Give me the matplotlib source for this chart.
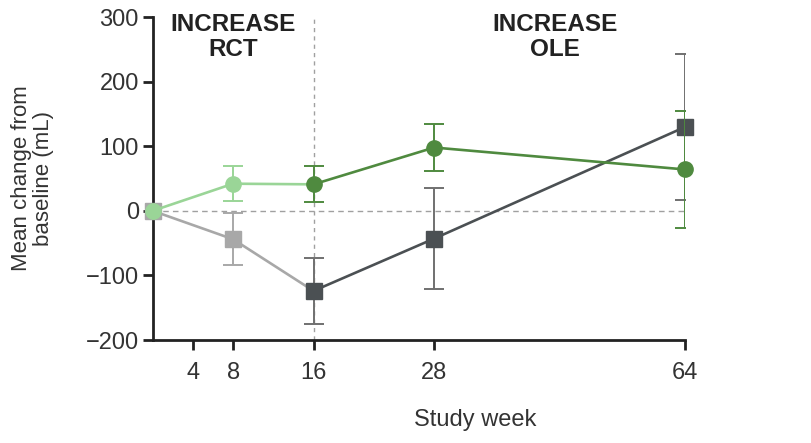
import matplotlib
matplotlib.use("Agg")
import matplotlib.pyplot as plt
import numpy as np

plt.rcParams['font.family'] = ['Liberation Sans', 'DejaVu Sans']

# data
weeks = [0, 8, 16, 28, 64]
tick_weeks = [4, 8, 16, 28, 64]

green_mean = [0, 42, 41, 98, 64]
green_err = [0, 27, 28, 36, 90]

grey_mean = [0, -44, -124, -43, 130]
grey_err = [0, 40, 51, 78, 113]

# colours
light_green = "#9ad597"
dark_green = "#4f8a3f"
light_grey = "#a8a8a8"
dark_grey = "#4b5053"
mid_grey = "#707070"

# compressed axis after week 28
def fwd(x):
    x = np.asarray(x, dtype=float)
    return np.where(x <= 28, x, 28 + (x - 28) * 0.694)

def inv(y):
    y = np.asarray(y, dtype=float)
    return np.where(y <= 28, y, 28 + (y - 28) / 0.694)

fig = plt.figure(figsize=(8.12, 4.43), dpi=100)
ax = fig.add_axes([0.188, 0.2325, 0.656, 0.729])
ax.set_xscale('function', functions=(fwd, inv))

ax.axhline(0, color="#a0a0a0", lw=1, ls=(0, (4, 3)), zorder=1)
ax.axvline(16, color="#a0a0a0", lw=1, ls=(0, (3, 3)), zorder=1)

ms = 11
lw = 1.9

# grey series: RCT part (light), OLE part (dark)
ax.plot(weeks[:3], grey_mean[:3], color=light_grey, lw=lw, zorder=2)
ax.plot(weeks[2:], grey_mean[2:], color=dark_grey, lw=lw, zorder=2)
ax.errorbar(weeks[1], grey_mean[1], yerr=grey_err[1], color=light_grey, lw=1.4, capsize=7, capthick=1.4, fmt="none", zorder=2)
ax.errorbar(weeks[2:], grey_mean[2:], yerr=grey_err[2:], color=mid_grey, lw=1.4, capsize=7, capthick=1.4, fmt="none", zorder=2)
ax.plot(weeks[:2], grey_mean[:2], "s", color=light_grey, ms=ms, ls="none", zorder=3, clip_on=False)
ax.plot(weeks[2:], grey_mean[2:], "s", color=dark_grey, ms=ms, ls="none", zorder=3, clip_on=False)

# green series
ax.plot(weeks[:3], green_mean[:3], color=light_green, lw=lw, zorder=4)
ax.plot(weeks[2:], green_mean[2:], color=dark_green, lw=lw, zorder=4)
ax.errorbar(weeks[1], green_mean[1], yerr=green_err[1], color=light_green, lw=1.4, capsize=7, capthick=1.4, fmt="none", zorder=4)
ax.errorbar(weeks[2:], green_mean[2:], yerr=green_err[2:], color=dark_green, lw=1.4, capsize=7, capthick=1.4, fmt="none", zorder=4)
ax.plot(weeks[:2], green_mean[:2], "o", color=light_green, ms=ms, ls="none", zorder=5, clip_on=False)
ax.plot(weeks[2:], green_mean[2:], "o", color=dark_green, ms=ms, ls="none", zorder=5, clip_on=False)

ax.set_xlim(0, 64)
ax.set_ylim(-200, 300)
ax.set_xticks(tick_weeks)
ax.set_xticklabels([str(w) for w in tick_weeks])
ax.set_yticks([-200, -100, 0, 100, 200, 300])
ax.set_yticklabels(["\u2212200", "\u2212100", "0", "100", "200", "300"])
ax.minorticks_off()

for s in ["top", "right"]:
    ax.spines[s].set_visible(False)
for s in ["left", "bottom"]:
    ax.spines[s].set_linewidth(2)
    ax.spines[s].set_color("#222222")
ax.tick_params(direction="out", length=7, width=2, color="#222222", labelsize=17, labelcolor="#333333", pad=3)
ax.tick_params(axis="x", pad=9)

ax.set_ylabel("Mean change from\nbaseline (mL)", fontsize=16, color="#333333", linespacing=1.1)
ax.yaxis.set_label_coords(-0.185, 0.5)
ax.set_xlabel("Study week", fontsize=17, color="#333333")
ax.xaxis.set_label_coords(0.605, -0.215)

ax.text(8, 306, "INCREASE\nRCT", ha="center", va="top", fontsize=17.5, fontweight="bold",
        color="#222222", linespacing=1.1)
ax.text(inv(40.0), 306, "INCREASE\nOLE", ha="center", va="top", fontsize=17.5, fontweight="bold",
        color="#222222", linespacing=1.1)

fig.savefig("out.png", dpi=100)
